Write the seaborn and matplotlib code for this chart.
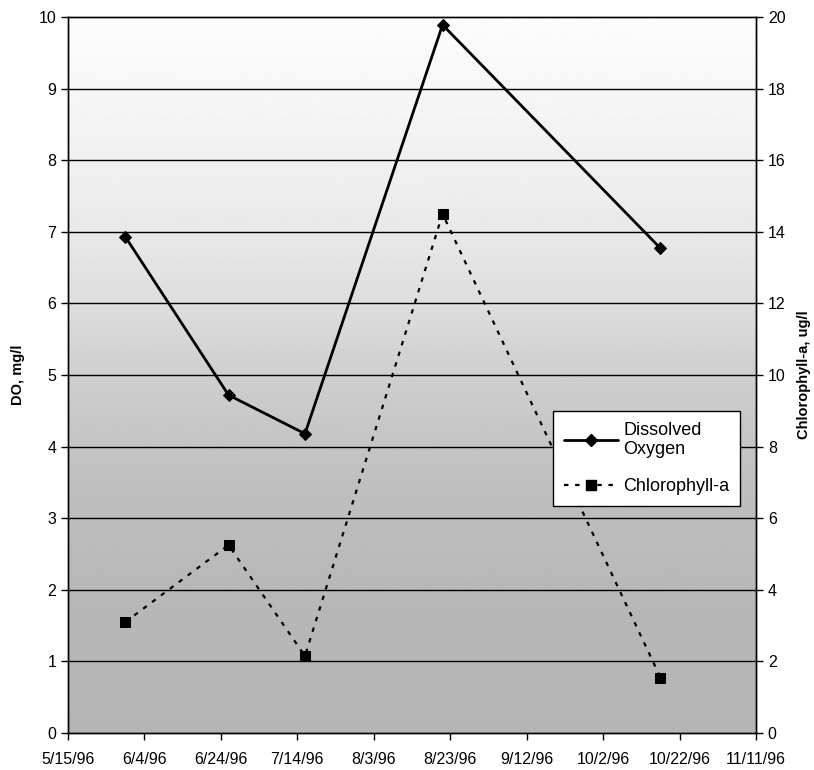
import numpy as np
import pandas as pd
import matplotlib
matplotlib.use('Agg')
import matplotlib.pyplot as plt
from matplotlib.lines import Line2D
import seaborn as sns

dates = ['1996-05-30', '1996-06-26', '1996-07-16', '1996-08-21', '1996-10-17']
do_values = [6.93, 4.72, 4.18, 9.89, 6.77]          # Dissolved Oxygen, mg/l
chl_values = [3.1, 5.25, 2.15, 14.5, 1.55]          # Chlorophyll-a, ug/l
tick_start = '1996-05-15'
n_ticks = 10

data = pd.DataFrame({'date': pd.to_datetime(dates), 'DO': do_values, 'Chl': chl_values})

sns.set_style('white')
plt.rcParams['font.family'] = ['Liberation Sans', 'DejaVu Sans']
plt.rcParams['text.color'] = 'black'
plt.rcParams['axes.labelcolor'] = 'black'
plt.rcParams['xtick.color'] = 'black'
plt.rcParams['ytick.color'] = 'black'

fig = plt.figure(figsize=(8.14, 7.7), dpi=100)
ax = fig.add_axes([68 / 814, 1 - 733 / 770, 688 / 814, 716 / 770])

# shaded background, light at the top and darker towards the bottom
stops_y = [0.0, 0.2, 0.35, 0.5, 0.6, 0.75, 1.0]
stops_v = [0.71, 0.72, 0.75, 0.81, 0.87, 0.93, 0.99]
grad = np.interp(np.linspace(0, 1, 300), stops_y, stops_v)[::-1].reshape(-1, 1)
ax.imshow(grad, cmap='gray', vmin=0, vmax=1, aspect='auto', extent=[0, 1, 0, 1],
          transform=ax.transAxes, zorder=0)

ticks = pd.date_range(tick_start, periods=n_ticks, freq='20D')
ax.set_xlim(ticks[0], ticks[-1])
ax.set_ylim(0, 10)
ax.set_yticks(range(0, 11))
for yv in range(1, 10):
    ax.axhline(yv, color='black', lw=1.0, zorder=1)

sns.lineplot(data=data, x='date', y='DO', ax=ax, color='black', lw=2,
             marker='D', markersize=6, markeredgecolor='black', zorder=3)

ax2 = ax.twinx()
sns.lineplot(data=data, x='date', y='Chl', ax=ax2, color='black', lw=1.6,
             linestyle=(0, (2, 3)), marker='s', markersize=7,
             markeredgecolor='black', zorder=3)
ax2.set_ylim(0, 20)
ax2.set_yticks(range(0, 21, 2))
ax2.set_xlim(ticks[0], ticks[-1])

ax.set_xticks(ticks)
ax.set_xticklabels([f'{d.month}/{d.day}/{d.year % 100}' for d in ticks])

for a in (ax, ax2):
    a.tick_params(axis='both', direction='out', length=5, width=1, labelsize=11.5,
                  bottom=True, left=(a is ax), right=(a is ax2), color='black',
                  labelcolor='black')
    for s in a.spines.values():
        s.set_color('black')
        s.set_linewidth(1)
ax.tick_params(axis='x', pad=9)

ax.set_xlabel('')
ax.set_ylabel('DO, mg/l', fontsize=10.5, fontweight='bold', labelpad=10)
ax2.set_ylabel('Chlorophyll-a, ug/l', fontsize=10.5, fontweight='bold', labelpad=8)

handles = [Line2D([], [], color='black', lw=2, marker='D', markersize=6),
           Line2D([], [], color='black', lw=1.6, linestyle=(0, (2, 3)), marker='s', markersize=7)]
leg = ax2.legend(handles, ['Dissolved\nOxygen', 'Chlorophyll-a'], loc='upper left',
                 bbox_to_anchor=(0.705, 0.45), borderaxespad=0, fancybox=False,
                 framealpha=1, edgecolor='black', fontsize=13, handlelength=3.0,
                 handletextpad=0.3, labelspacing=1.1, borderpad=0.6)
leg.get_frame().set_linewidth(1)
leg.set_zorder(10)

fig.savefig('out.png', dpi=100)
